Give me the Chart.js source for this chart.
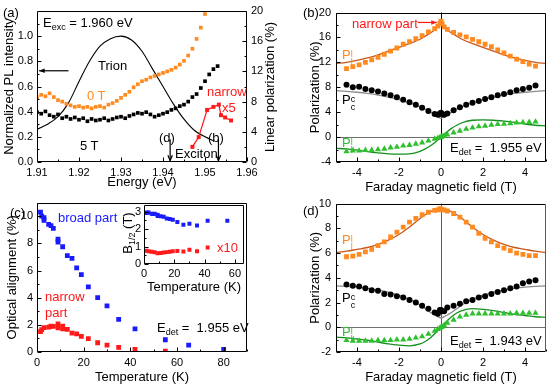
<!DOCTYPE html>
<html>
<head>
<meta charset="utf-8">
<script src="https://cdn.jsdelivr.net/npm/chart.js@4.4.1/dist/chart.umd.min.js"></script>
<style>
  body { margin: 0; width: 550px; height: 385px; position: relative; overflow: hidden; background: #fff;
         font-family: "Liberation Sans", Arial, sans-serif; }
  canvas { position: absolute; }
  .t { position: absolute; font-size: 13px; line-height: 15px; white-space: nowrap; z-index: 5; }
  .t sub { font-size: 9px; vertical-align: -3px; line-height: 0; }
  .ss { display: inline-block; vertical-align: -6px; font-size: 9px; line-height: 8px; }
  .ss span { display: block; }
  .rot { position: absolute; font-size: 13px; white-space: nowrap; z-index: 5;
         transform: translate(-50%, -50%) rotate(-90deg); }
  .rot sub { font-size: 9px; vertical-align: -3px; line-height: 0; }
</style>
</head>
<body>

<!-- panel (a) labels -->
<div class="t" style="left:3px;top:5px">(a)</div>
<div class="t" style="left:43px;top:15px">E<sub>exc</sub> = 1.960 eV</div>
<div class="t" style="left:98px;top:58px">Trion</div>
<div class="t" style="left:87px;top:88px;color:#ff8a1f">0 T</div>
<div class="t" style="left:80px;top:138px">5 T</div>
<div class="t" style="left:207px;top:84px;color:#ff1a1a">narrow</div>
<div class="t" style="left:222px;top:100px;color:#ff1a1a">x5</div>
<div class="t" style="left:159px;top:130px">(d)</div>
<div class="t" style="left:208px;top:130px">(b)</div>
<div class="t" style="left:175px;top:146px">Exciton</div>
<div class="rot" style="left:269px;top:87px">Linear polarization (%)</div>

<!-- panel (b) labels -->
<div class="t" style="left:303px;top:5px">(b)</div>
<div class="t" style="left:352px;top:16px;color:#ff1a1a">narrow part</div>
<div class="t" style="left:342px;top:47px;color:#ff8a1f">P<span class="ss"><span>l</span><span>l</span></span></div>
<div class="t" style="left:342px;top:92px">P<span class="ss"><span>c</span><span>c</span></span></div>
<div class="t" style="left:342px;top:135px;color:#2fbf2f">P<span class="ss"><span>l</span><span>l'</span></span></div>
<div class="t" style="left:450px;top:140px">E<sub>det</sub> =&nbsp; 1.955 eV</div>

<!-- panel (c) labels -->
<div class="t" style="left:10px;top:205px">(c)</div>
<div class="t" style="left:58px;top:210px;color:#1a1aff">broad part</div>
<div class="t" style="left:45px;top:289px;color:#ff1a1a">narrow</div>
<div class="t" style="left:45px;top:305px;color:#ff1a1a">part</div>
<div class="t" style="left:157px;top:320px">E<sub>det</sub> =&nbsp; 1.955 eV</div>
<div class="t" style="left:217px;top:240px;color:#ff1a1a">x10</div>
<div class="rot" style="left:127px;top:233px">B<sub>1/2</sub> (T)</div>

<!-- panel (d) labels -->
<div class="t" style="left:303px;top:203px">(d)</div>
<div class="t" style="left:342px;top:232px;color:#ff8a1f">P<span class="ss"><span>l</span><span>l</span></span></div>
<div class="t" style="left:342px;top:290px">P<span class="ss"><span>c</span><span>c</span></span></div>
<div class="t" style="left:342px;top:324px;color:#2fbf2f">P<span class="ss"><span>l</span><span>l'</span></span></div>
<div class="t" style="left:450px;top:333px">E<sub>det</sub> =&nbsp; 1.943 eV</div>

<script>
Chart.defaults.font.family = '"Liberation Sans", Arial, sans-serif';
Chart.defaults.color = '#000';

// ---------- panel (a): PL spectrum and linear polarization ----------
const energyTrion = [1.9100, 1.9125, 1.9150, 1.9175, 1.9200, 1.9225, 1.9250, 1.9275, 1.9300,
  1.9325, 1.9350, 1.9375, 1.9400, 1.9425, 1.9450, 1.9475, 1.9500, 1.9520];
const trionPL = [0.26, 0.30, 0.36, 0.47, 0.64, 0.80, 0.92, 0.98, 1.00,
  0.97, 0.88, 0.74, 0.60, 0.46, 0.34, 0.25, 0.20, 0.17];

const energyGrid = [1.910, 1.911, 1.912, 1.913, 1.914, 1.915, 1.916, 1.917, 1.918, 1.919,
  1.920, 1.921, 1.922, 1.923, 1.924, 1.925, 1.926, 1.927, 1.928, 1.929,
  1.930, 1.931, 1.932, 1.933, 1.934, 1.935, 1.936, 1.937, 1.938, 1.939,
  1.940, 1.941, 1.942, 1.943, 1.944, 1.945, 1.946, 1.947, 1.948, 1.949,
  1.950, 1.951, 1.952, 1.953];
const pol0T = [8.6, 8.9, 8.7, 9.1, 8.6, 8.2, 8.0, 7.7, 7.5, 7.3,
  7.4, 7.2, 7.3, 7.1, 7.3, 7.4, 7.2, 7.6, 7.8, 8.1,
  8.5, 8.9, 9.3, 9.9, 10.3, 10.7, 10.9, 11.2, 11.4, 11.6,
  11.8, 12.0, 12.2, 12.5, 12.9, 13.4, 14.1, 15.0, 16.3, 17.8,
  19.6, null, null, null];
const pol5T = [6.6, 6.4, 6.7, 6.2, 6.0, 6.3, 5.8, 6.0, 5.7, 5.9,
  5.6, 5.8, 5.4, 5.7, 5.5, 5.6, 5.8, 5.5, 5.7, 5.9,
  6.0, 5.8, 6.1, 6.3, 6.5, 6.4, 6.6, 6.3, 6.0, 6.2,
  6.4, 6.6, 6.9, 7.1, 7.4, 7.6, 8.0, 8.6, 9.0, 9.8,
  10.7, 11.6, 12.3, 12.7];
const energyNarrow = [1.9470, 1.9485, 1.9505, 1.9520, 1.9533, 1.9538, 1.9548, 1.9562];
const polNarrow = [2.0, 3.3, 6.9, 7.3, 7.6, 6.2, 5.9, 5.5];
const arrowEnergies = [1.9417, 1.9532];

const ticksEnergy = [1.91, 1.92, 1.93, 1.94, 1.95, 1.96];
const ticksPL = [0, 0.2, 0.4, 0.6, 0.8, 1.0];
const ticksLinPol = [0, 4, 8, 12, 16, 20];

// ---------- panels (b) and (d): field dependences ----------
const fieldB = [-4.5, -4.2, -3.9, -3.6, -3.3, -3.0, -2.7, -2.4, -2.1, -1.8, -1.5, -1.2, -0.9, -0.6, -0.3,
  -0.15, -0.05, 0, 0.05, 0.15,
  0.3, 0.6, 0.9, 1.2, 1.5, 1.8, 2.1, 2.4, 2.7, 3.0, 3.3, 3.6, 3.9, 4.2, 4.5];
const fitField = [-5, -4.5, -4, -3.5, -3, -2.5, -2, -1.5, -1, -0.75, -0.5, -0.25, 0,
  0.25, 0.5, 0.75, 1, 1.5, 2, 2.5, 3, 3.5, 4, 4.5, 5];

const bLinear = [11.0, 11.3, 11.6, 12.0, 12.4, 12.8, 13.3, 13.8, 14.3, 14.9, 15.3, 15.8, 16.3, 16.9, 17.4,
  17.8, 18.3, 18.6, 18.2, 17.7,
  17.3, 16.8, 16.4, 16.1, 15.7, 15.3, 14.9, 14.5, 14.0, 13.5, 13.0, 12.5, 12.1, 11.7, 11.4];
const bCircular = [8.4, 8.0, 8.1, 7.7, 7.5, 7.3, 7.0, 6.7, 6.4, 6.0, 5.6, 5.2, 4.7, 4.2, 3.7,
  3.6, 3.8, 3.9, 3.7, 3.6,
  3.8, 4.3, 4.8, 5.2, 5.5, 5.8, 6.1, 6.4, 6.7, 6.9, 7.2, 7.5, 7.7, 7.9, 8.3];
const bRotated = [-2.3, -2.2, -2.2, -2.1, -2.1, -2.0, -1.9, -1.7, -1.6, -1.4, -1.3, -1.1, -0.9, -0.6, -0.3,
  -0.15, -0.05, 0, 0.1, 0.2,
  0.4, 0.7, 1.0, 1.3, 1.5, 1.7, 1.8, 1.95, 2.05, 2.1, 2.2, 2.3, 2.35, 2.4, 2.45];
const bFitLinear = [11.8, 12.0, 12.3, 12.7, 13.2, 13.8, 14.4, 15.0, 15.7, 16.2, 16.7, 17.4, 18.4,
  17.4, 16.7, 16.2, 15.7, 15.0, 14.4, 13.8, 13.2, 12.7, 12.3, 12.0, 11.8];
const bFitCircular = [7.45, 7.35, 7.2, 7.0, 6.75, 6.4, 6.0, 5.5, 4.9, 4.5, 4.0, 3.5, 3.0,
  3.5, 4.0, 4.5, 4.9, 5.5, 6.0, 6.4, 6.75, 7.0, 7.2, 7.35, 7.45];
const bFitRotated = [-1.8, -1.9, -2.1, -2.35, -2.55, -2.7, -2.75, -2.7, -2.3, -1.9, -1.4, -0.75, 0,
  0.75, 1.4, 1.9, 2.3, 2.7, 2.75, 2.7, 2.55, 2.35, 2.1, 1.9, 1.8];

const dLinear = [5.7, 5.75, 5.9, 6.1, 6.3, 6.6, 6.9, 7.3, 7.7, 8.1, 8.5, 8.8, 9.1, 9.3, 9.45,
  9.5, 9.6, 9.55, 9.5, 9.5,
  9.4, 9.2, 8.9, 8.5, 8.1, 7.6, 7.2, 6.9, 6.6, 6.4, 6.2, 6.0, 5.9, 5.8, 5.8];
const dCircular = [3.45, 3.35, 3.3, 3.15, 3.0, 2.95, 2.7, 2.65, 2.5, 2.4, 2.2, 2.0, 1.75, 1.5, 1.2,
  1.1, 1.4, 1.4, 1.3, 1.3,
  1.6, 1.75, 1.9, 2.1, 2.2, 2.4, 2.5, 2.7, 2.85, 3.0, 3.15, 3.3, 3.55, 3.7, 3.8];
const dRotated = [-1.05, -1.1, -1.1, -1.1, -1.1, -1.05, -1.05, -1.05, -1.0, -1.0, -0.95, -0.85, -0.75, -0.55, -0.3,
  -0.15, -0.05, 0, 0.05, 0.15,
  0.35, 0.6, 0.85, 1.0, 1.1, 1.1, 1.1, 1.1, 1.1, 1.1, 1.1, 1.15, 1.15, 1.15, 1.15];
const dFitLinear = [6.05, 6.15, 6.3, 6.45, 6.7, 7.05, 7.5, 8.1, 8.8, 9.1, 9.35, 9.5, 9.55,
  9.5, 9.35, 9.1, 8.8, 8.1, 7.5, 7.05, 6.7, 6.45, 6.3, 6.15, 6.05];
const dFitCircular = [3.35, 3.3, 3.25, 3.15, 3.0, 2.85, 2.6, 2.25, 1.8, 1.5, 1.2, 0.95, 0.75,
  0.95, 1.2, 1.5, 1.8, 2.25, 2.6, 2.85, 3.0, 3.15, 3.25, 3.3, 3.35];
const dFitRotated = [-0.8, -0.85, -0.95, -1.05, -1.2, -1.35, -1.45, -1.5, -1.35, -1.15, -0.85, -0.45, 0,
  0.45, 0.85, 1.15, 1.35, 1.5, 1.45, 1.35, 1.2, 1.05, 0.95, 0.85, 0.8];

const ticksField = [-4, -2, 0, 2, 4];
const ticksPolB = [-4, 0, 4, 8, 12, 16, 20];
const ticksPolD = [-2, 0, 2, 4, 6, 8, 10];

// ---------- panel (c): temperature dependence ----------
const tempBroad = [1.5, 2, 3, 3, 5, 6, 7, 9, 9, 11, 13, 15, 17, 19, 22, 26, 30, 35, 42, 55, 65, 80];
const alignBroad = [10.3, 10.0, 9.9, 9.7, 9.4, 9.3, 9.1, 8.3, 8.1, 7.75, 7.1, 6.9, 6.2, 5.7, 4.8,
  4.0, 3.4, 2.4, 1.7, 0.9, 0.5, 0.2];
const tempNarrow = [1.5, 2, 3, 5, 6, 7, 9, 9, 11, 11, 13, 15, 17, 19, 22, 26, 30, 35, 42, 55];
const alignNarrow = [1.5, 1.65, 1.8, 1.83, 1.9, 1.88, 2.07, 1.78, 1.9, 1.7, 1.66, 1.39, 1.34, 1.15,
  0.98, 0.68, 0.51, 0.34, 0.2, 0.07];
const insetTempBroad = [1.5, 2, 3, 5, 6, 7, 9, 9, 11, 13, 15, 17, 19, 22, 26, 30, 35, 42, 55];
const insetBroad = [2.92, 2.95, 2.95, 2.88, 2.86, 2.88, 2.82, 2.75, 2.73, 2.7, 2.6, 2.57, 2.53, 2.4,
  2.25, 2.3, 2.2, 2.47, 2.47];
const insetTempNarrow = [1.5, 3, 5, 7, 9, 11, 13, 15, 17, 19, 22, 26, 30, 35, 42];
const insetNarrow = [0.76, 0.73, 0.7, 0.67, 0.62, 0.63, 0.66, 0.68, 0.7, 0.73, 0.74, 0.72, 0.82, 0.73, 0.94];

const ticksTemp = [0, 20, 40, 60, 80];
const ticksAlign = [0, 2, 4, 6, 8, 10];
const ticksInsetTemp = [0, 20, 40, 60];
const ticksInsetB = [0, 1, 2, 3];

const ORANGE = '#ff8a1f', ORANGE_FIT = '#c8581a', GREEN = '#2fbf2f', GREEN_FIT = '#14901e',
      GRAY = '#8c8c8c', RED = '#ff1a1a', BLUE = '#1a1aff';

function pts(xs, ys) {
  return xs.map((x, i) => ({ x: x, y: ys[i] })).filter(p => p.y !== null);
}

function axis(o) {
  return {
    type: 'linear', position: o.pos, min: o.min, max: o.max,
    grid: { display: false, drawTicks: false }, border: { display: false },
    afterBuildTicks: s => { s.ticks = o.ticks.map(v => ({ value: v })); },
    ticks: { font: { size: 11 }, color: '#000', padding: o.pad || 4, autoSkip: false, maxRotation: 0,
             callback: o.fmt || (v => v) },
    title: o.title ? { display: true, text: o.title, font: { size: o.tsize || 13 }, color: '#000',
                       padding: { top: o.tpad || 0, bottom: o.tpad || 0 } } : { display: false },
    afterFit: s => { if (o.w !== undefined) s.width = o.w; if (o.h !== undefined) s.height = o.h; }
  };
}

function arrow(ctx, x0, y0, x1, y1, color, head, filled) {
  const ang = Math.atan2(y1 - y0, x1 - x0);
  ctx.strokeStyle = color; ctx.fillStyle = color; ctx.lineWidth = 1.2;
  ctx.beginPath(); ctx.moveTo(x0, y0); ctx.lineTo(x1, y1); ctx.stroke();
  const a1 = ang + Math.PI - 0.38, a2 = ang + Math.PI + 0.38;
  ctx.beginPath();
  ctx.moveTo(x1 + head * Math.cos(a1), y1 + head * Math.sin(a1));
  ctx.lineTo(x1, y1);
  ctx.lineTo(x1 + head * Math.cos(a2), y1 + head * Math.sin(a2));
  if (filled) { ctx.closePath(); ctx.fill(); } else ctx.stroke();
}

// box, inner ticks, zero lines, arrows
const frame = {
  id: 'frame',
  beforeDatasetsDraw(chart, args, o) {
    const { ctx, chartArea: a, scales } = chart;
    ctx.save(); ctx.lineWidth = 1;
    if (o.zeroY) {
      const y = Math.round(scales.y.getPixelForValue(0)) + 0.5;
      ctx.strokeStyle = '#707070'; ctx.beginPath(); ctx.moveTo(a.left, y); ctx.lineTo(a.right, y); ctx.stroke();
    }
    if (o.zeroX) {
      const x = Math.round(scales.x.getPixelForValue(0)) + 0.5;
      ctx.strokeStyle = o.zeroX; ctx.beginPath(); ctx.moveTo(x, a.top); ctx.lineTo(x, a.bottom); ctx.stroke();
    }
    ctx.restore();
  },
  afterDraw(chart, args, o) {
    const { ctx, chartArea: a } = chart;
    const L = Math.round(a.left) + 0.5, R = Math.round(a.right) - 0.5;
    const T = Math.round(a.top) + 0.5, B = Math.round(a.bottom) - 0.5;
    ctx.save(); ctx.lineWidth = 1; ctx.strokeStyle = '#000';
    ctx.beginPath(); ctx.moveTo(R, T); ctx.lineTo(L, T); ctx.lineTo(L, B); ctx.lineTo(R, B);
    if (!o.rightColor) ctx.lineTo(R, T);
    ctx.stroke();
    if (o.rightColor) {
      ctx.strokeStyle = o.rightColor; ctx.beginPath(); ctx.moveTo(R, T); ctx.lineTo(R, B); ctx.stroke();
    }
    ctx.strokeStyle = '#000';
    Object.values(chart.scales).forEach(s => {
      const vals = s.ticks.map(t => t.value);
      const step = vals[1] - vals[0];
      const minor = [];
      for (let v = vals[0] - step / 2; v <= s.max + 1e-9; v += step) if (v >= s.min - 1e-9) minor.push(v);
      const mark = (v, len) => {
        const p = Math.round(s.getPixelForValue(v)) + 0.5;
        ctx.beginPath();
        if (s.position === 'bottom') { ctx.moveTo(p, B); ctx.lineTo(p, B - len); }
        else if (s.position === 'left') { ctx.moveTo(L, p); ctx.lineTo(L + len, p); }
        else { ctx.moveTo(R, p); ctx.lineTo(R - len, p); }
        ctx.stroke();
      };
      vals.forEach(v => mark(v, 4));
      minor.forEach(v => mark(v, 2));
    });
    if (o.arrows) o.arrows(chart);
    ctx.restore();
  }
};

function mkChart(left, top, w, h, cfg) {
  const c = document.createElement('canvas');
  c.width = w; c.height = h;
  c.style.left = left + 'px'; c.style.top = top + 'px';
  c.style.width = w + 'px'; c.style.height = h + 'px';
  document.body.appendChild(c);
  cfg.plugins = [frame];
  cfg.options = Object.assign({ responsive: false, animation: false, devicePixelRatio: 1, events: [] }, cfg.options);
  cfg.options.plugins = Object.assign({ legend: { display: false }, tooltip: { enabled: false } }, cfg.options.plugins);
  return new Chart(c.getContext('2d'), cfg);
}

function scatterSet(data, color, style, r, axisId) {
  const d = { data: data, showLine: false, pointStyle: style, pointRadius: r, backgroundColor: color,
              borderColor: color, pointBorderWidth: 0 };
  if (axisId) d.yAxisID = axisId;
  return d;
}
function lineSet(data, color, width, axisId) {
  const d = { data: data, showLine: true, pointRadius: 0, borderColor: color, borderWidth: width,
              cubicInterpolationMode: 'monotone', fill: false };
  if (axisId) d.yAxisID = axisId;
  return d;
}

// ---- (a)
mkChart(0, 0, 275, 195, {
  type: 'scatter',
  data: { datasets: [
    Object.assign(scatterSet(pts(energyNarrow, polNarrow), RED, 'rect', 2.8, 'yR'), { showLine: true, borderWidth: 1.3 }),
    scatterSet(pts(energyGrid, pol5T), '#000', 'rect', 2.6, 'yR'),
    scatterSet(pts(energyGrid, pol0T), ORANGE, 'rect', 2.6, 'yR'),
    lineSet(pts(energyTrion, trionPL), '#000', 1.1, 'yL')
  ] },
  options: {
    layout: { padding: { top: 11, right: 0, left: 0, bottom: 0 } },
    plugins: { frame: { arrows: chart => {
      const { ctx, scales: { x, yL } } = chart;
      arrow(ctx, x.getPixelForValue(1.9175), yL.getPixelForValue(0.725),
                 x.getPixelForValue(1.9105), yL.getPixelForValue(0.725), '#000', 6, true);
      arrowEnergies.forEach(e => {
        arrow(ctx, x.getPixelForValue(e), yL.getPixelForValue(0.18),
                   x.getPixelForValue(e), yL.getPixelForValue(0.01), '#000', 6, false);
      });
    } } },
    scales: {
      x: axis({ pos: 'bottom', min: 1.91, max: 1.96, ticks: ticksEnergy, fmt: v => v.toFixed(2),
                title: 'Energy (eV)', tpad: 5, h: 33 }),
      yL: axis({ pos: 'left', min: 0, max: 1.2, ticks: ticksPL, fmt: v => v.toFixed(1),
                 title: 'Normalized PL intensity', tpad: 2, w: 37 }),
      yR: axis({ pos: 'right', min: 0, max: 20, ticks: ticksLinPol, w: 28 })
    }
  }
});

// ---- (b)
mkChart(275, 0, 275, 195, {
  type: 'scatter',
  data: { datasets: [
    scatterSet(pts(fieldB, bLinear), ORANGE, 'rect', 3.4),
    scatterSet(pts(fieldB, bCircular), '#000', 'circle', 3),
    scatterSet(pts(fieldB, bRotated), GREEN, 'triangle', 3.6),
    lineSet(pts(fitField, bFitLinear), ORANGE_FIT, 1.3),
    lineSet(pts(fitField, bFitCircular), GRAY, 1.3),
    lineSet(pts(fitField, bFitRotated), GREEN_FIT, 1.3)
  ] },
  options: {
    layout: { padding: { top: 12.5, right: 3, left: 32, bottom: 0 } },
    plugins: { frame: { zeroY: true, zeroX: '#000', arrows: chart => {
      const { ctx, scales: { x, y } } = chart;
      arrow(ctx, x.getPixelForValue(-1.1), y.getPixelForValue(18.4),
                 x.getPixelForValue(-0.2), y.getPixelForValue(18.4), RED, 6, true);
    } } },
    scales: {
      x: axis({ pos: 'bottom', min: -5, max: 5, ticks: ticksField, title: 'Faraday magnetic field (T)', h: 33 }),
      y: axis({ pos: 'left', min: -4, max: 20, ticks: ticksPolB, title: 'Polarization (%)', tpad: 1, w: 29, pad: 5 })
    }
  }
});

// ---- (c)
mkChart(0, 192, 275, 193, {
  type: 'scatter',
  data: { datasets: [
    scatterSet(pts(tempNarrow, alignNarrow), RED, 'rect', 3.4),
    scatterSet(pts(tempBroad, alignBroad), BLUE, 'rect', 3.4)
  ] },
  options: {
    layout: { padding: { top: 9, right: 28, left: 0, bottom: 0 } },
    plugins: { frame: {} },
    scales: {
      x: axis({ pos: 'bottom', min: 0, max: 90, ticks: ticksTemp, title: 'Temperature (K)', h: 33 }),
      y: axis({ pos: 'left', min: 0, max: 11, ticks: ticksAlign, title: 'Optical alignment (%)', tpad: 5, w: 37 })
    }
  }
});

// ---- (c) inset
mkChart(110, 195, 140, 100, {
  type: 'scatter',
  data: { datasets: [
    scatterSet(pts(insetTempNarrow, insetNarrow), RED, 'rect', 2.8),
    scatterSet(pts(insetTempBroad, insetBroad), BLUE, 'rect', 2.8)
  ] },
  options: {
    layout: { padding: { top: 8.5, right: 6, left: 0, bottom: 0 } },
    plugins: { frame: {} },
    scales: {
      x: axis({ pos: 'bottom', min: 0, max: 66, ticks: ticksInsetTemp, title: 'Temperature (K)', h: 31, pad: 3 }),
      y: axis({ pos: 'left', min: 0, max: 3.4, ticks: ticksInsetB, w: 34, pad: 3 })
    }
  }
});

// ---- (d)
mkChart(275, 192, 275, 193, {
  type: 'scatter',
  data: { datasets: [
    scatterSet(pts(fieldB, dLinear), ORANGE, 'rect', 3.4),
    scatterSet(pts(fieldB, dCircular), '#000', 'circle', 3),
    scatterSet(pts(fieldB, dRotated), GREEN, 'triangle', 3.6),
    lineSet(pts(fitField, dFitLinear), ORANGE_FIT, 1.3),
    lineSet(pts(fitField, dFitCircular), GRAY, 1.3),
    lineSet(pts(fitField, dFitRotated), GREEN_FIT, 1.3)
  ] },
  options: {
    layout: { padding: { top: 10, right: 3, left: 32, bottom: 0 } },
    plugins: { frame: { zeroY: true, zeroX: GREEN_FIT, rightColor: GREEN_FIT } },
    scales: {
      x: axis({ pos: 'bottom', min: -5, max: 5, ticks: ticksField, title: 'Faraday magnetic field (T)', h: 33 }),
      y: axis({ pos: 'left', min: -2, max: 10, ticks: ticksPolD, title: 'Polarization (%)', tpad: 1, w: 29, pad: 5 })
    }
  }
});
</script>
</body>
</html>
